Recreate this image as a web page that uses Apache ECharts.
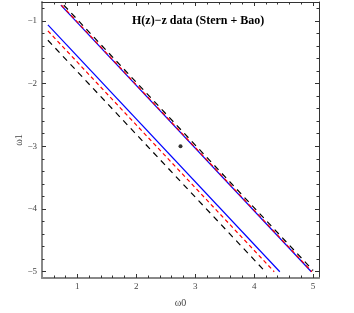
<!DOCTYPE html>
<html>
<head>
<meta charset="utf-8">
<script src="https://cdn.jsdelivr.net/npm/echarts@6/dist/echarts.min.js"></script>
<style>
html, body { margin: 0; padding: 0; background: #fff; }
#main { width: 354px; height: 313px; }
</style>
</head>
<body>
<div id="main"></div>
<script>
var myChart = echarts.init(document.getElementById('main'));

// contour lines: [w0, w1] end points
var blueUpper = [[0.72, -0.75], [4.97, -5.0]];
var blueLower = [[0.5, -1.065], [4.435, -5.0]];
var redUpper = [[0.73, -0.75], [4.98, -5.0]];
var redLower = [[0.5, -1.16], [4.34, -5.0]];
var blackUpper = [[0.77, -0.75], [5.0, -4.98]];
var blackLower = [[0.5, -1.31], [4.19, -5.0]];
var bestFit = [[2.75, -3.0]];

// tick labels
var xMajor = [1, 2, 3, 4, 5];
var yMajor = [-5, -4, -3, -2, -1];

var xMinor = [];
for (var i = 3; i <= 25; i++) {
    if (i % 5 != 0) xMinor.push(i / 5);
}
var yMinor = [];
for (var j = -25; j <= -4; j++) {
    if (j % 5 != 0) yMinor.push(j / 5);
}

var serif = 'Liberation Serif';

function fmtMinus(v) {
    return v < 0 ? '\u2212' + Math.abs(v) : String(v);
}

function makeAxis(kind, pos, ticks, len, opts) {
    var ax = {
        type: 'value',
        position: pos,
        min: kind == 'x' ? 0.4 : -5.1,
        max: kind == 'x' ? 5.1 : -0.7,
        splitLine: { show: false },
        axisLine: { show: false },
        axisTick: {
            show: true,
            inside: true,
            length: len,
            customValues: ticks,
            lineStyle: { color: '#333', width: 1 }
        },
        axisLabel: { show: false }
    };
    for (var k in opts) ax[k] = opts[k];
    return ax;
}

var xAxes = [
    makeAxis('x', 'bottom', xMajor, 4, {
        name: '\u03c90',
        nameLocation: 'middle',
        nameGap: 20,
        nameMoveOverlap: false,
        nameTextStyle: { fontFamily: serif, fontSize: 10, color: '#444' },
        axisLine: { show: true, onZero: false, lineStyle: { color: '#888', width: 2 } },
        axisLabel: {
            show: true,
            customValues: xMajor,
            margin: 4,
            fontFamily: serif,
            fontSize: 9,
            color: '#444',
            formatter: fmtMinus
        }
    }),
    makeAxis('x', 'bottom', xMinor, 2.5, {}),
    makeAxis('x', 'top', xMajor, 4, {
        axisLine: { show: true, onZero: false, lineStyle: { color: '#333', width: 1 } }
    }),
    makeAxis('x', 'top', xMinor, 2.5, {})
];

var yAxes = [
    makeAxis('y', 'left', yMajor, 4, {
        name: '\u03c91',
        nameLocation: 'middle',
        nameGap: 18,
        nameRotate: 90,
        nameMoveOverlap: false,
        nameTextStyle: { fontFamily: serif, fontSize: 10, color: '#444' },
        axisLine: { show: true, onZero: false, lineStyle: { color: '#888', width: 2 } },
        axisLabel: {
            show: true,
            customValues: yMajor,
            margin: 5,
            fontFamily: serif,
            fontSize: 9,
            color: '#444',
            formatter: fmtMinus
        }
    }),
    makeAxis('y', 'left', yMinor, 2.5, {}),
    makeAxis('y', 'right', yMajor, 4, {
        axisLine: { show: true, onZero: false, lineStyle: { color: '#333', width: 1 } }
    }),
    makeAxis('y', 'right', yMinor, 2.5, {})
];

function lineSeries(data, color, type) {
    return {
        type: 'line',
        data: data,
        symbol: 'none',
        silent: true,
        animation: false,
        lineStyle: { color: color, width: 1.2, type: type }
    };
}

option = {
    backgroundColor: '#fff',
    animation: false,
    title: {
        text: 'H(z)\u2212z data (Stern + Bao)',
        left: 127,
        top: 10,
        textStyle: { fontFamily: serif, fontSize: 12, fontWeight: 'bold', color: '#000' }
    },
    grid: { left: 42, right: 35, top: 2, bottom: 35 },
    xAxis: xAxes,
    yAxis: yAxes,
    series: [
        lineSeries(blueUpper, '#0000ff', 'solid'),
        lineSeries(blueLower, '#0000ff', 'solid'),
        lineSeries(redUpper, '#ff0000', [4, 3]),
        lineSeries(redLower, '#ff0000', [4, 3]),
        lineSeries(blackUpper, '#000', [6, 5]),
        lineSeries(blackLower, '#000', [6, 5]),
        {
            type: 'scatter',
            data: bestFit,
            symbolSize: 4,
            itemStyle: { color: '#000' },
            animation: false
        }
    ]
};

myChart.setOption(option);
</script>
</body>
</html>
